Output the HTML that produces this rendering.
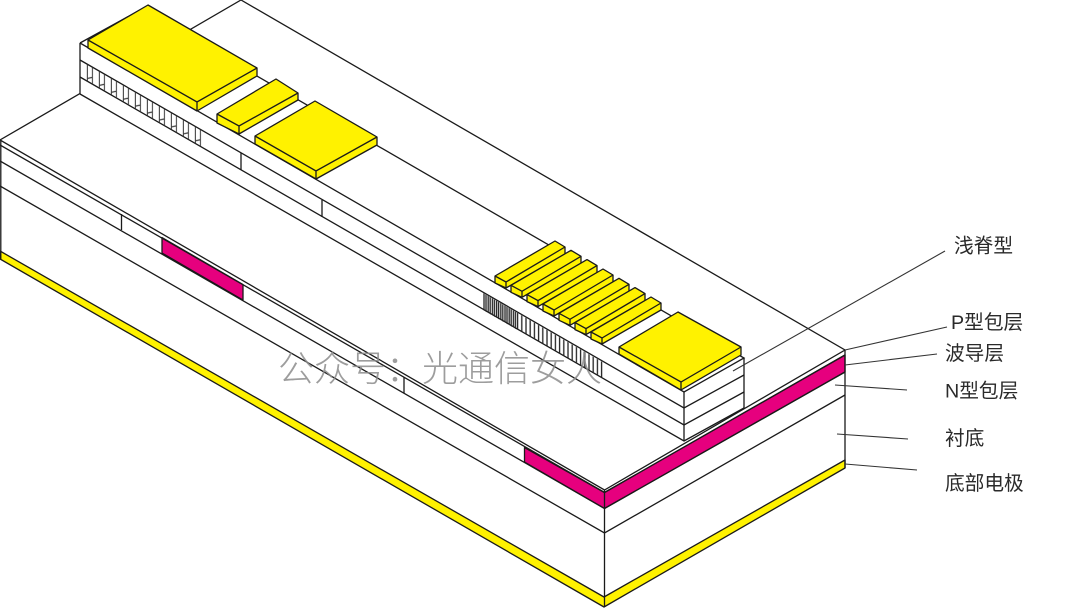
<!DOCTYPE html>
<html lang="zh">
<head>
<meta charset="utf-8">
<title>浅脊型</title>
<style>
html,body{margin:0;padding:0;background:#fff;width:1080px;height:608px;overflow:hidden}
svg{display:block}
.l{fill:none;stroke:#1a1a1a;stroke-width:1.3}
.p{stroke:#1a1a1a;stroke-width:1.3;stroke-linejoin:round}
.y{fill:#fff200}
.d{fill:#e6007e}
.lead{fill:none;stroke:#333;stroke-width:1.1}
text{font-family:"Liberation Sans","Noto Sans CJK SC",sans-serif}
.t{font-size:19.7px;fill:#2a2a2a}
.w{font-size:36px;fill:#8c8c8c;font-weight:300;opacity:.85}
</style>
</head>
<body>
<svg width="1080" height="608" viewBox="0 0 1080 608" xmlns="http://www.w3.org/2000/svg">
<defs>
<pattern id="g1" patternUnits="userSpaceOnUse" x="86.7" y="0" width="12" height="400" patternTransform="skewY(30)">
<path d="M0.7 0V400M5.7 0V400" stroke="#333" stroke-width="1" fill="none"/>
<path d="M0.7 28L5.7 24" stroke="#333" stroke-width="0.9" fill="none"/>
</pattern>
<pattern id="g2" patternUnits="userSpaceOnUse" x="483" y="0" width="4.2" height="800">
<path d="M1 0V800" stroke="#222" stroke-width="1.3" fill="none"/>
</pattern>
<g id="f">
<polygon class="p y" points="495,276 555,241 565,247 565,254 506,288 495,283"/>
<path class="l" d="M495,276L506,282L565,247M506,282V288"/>
</g>
</defs>
<rect width="1080" height="608" fill="#fff"/>

<!-- substrate block -->
<polygon points="0,140 241,0 845,350 845,468 604,607 0,259" fill="#fff"/>
<polygon class="p y" points="0,251 604,597 845,460 845,468 604,607 0,259"/>
<polygon class="p d" points="162,237.5 243,284.5 243,300 162,253"/>
<polygon class="p d" points="524.5,447.5 604.5,492.5 845,355 845,372 604.5,508.5 524.5,462"/>
<path class="l" d="M0,140L604.5,490L845,350L241,0L0,140"/>
<path class="l" d="M0,145L604.5,492.5L845,355"/>
<path class="l" stroke-width="1.4" d="M0,161L604.5,508.5L845,372"/>
<path class="l" d="M0,186L604.5,533L845,395"/>
<path class="l" d="M0.8,140V259M604.5,490V607M845,350V468"/>
<path class="l" d="M121.5,214V230M404,377V393"/>

<!-- ridge -->
<polygon points="80,43 141,9.5 744,358 744,408 684,441 80,94" fill="#fff"/>
<path class="l" d="M80,43L684,392L744,358L257,76M80,43L141,9.5"/>
<path class="l" d="M80,60L684,408L744,375"/>
<path class="l" d="M80,77L684,425L744,392"/>
<path class="l" d="M80,94L684,441L744,408"/>
<path class="l" d="M80,43V94M684,392V441M744,358V408"/>
<path class="l" d="M241,153V170M322,200V217"/>

<!-- gratings -->
<polygon points="84,62.5 202,130.5 202,147 84,79.5" fill="url(#g1)"/>
<polygon points="483,293 604,363 604,379 483,310" fill="url(#g2)"/>
<polygon points="483,293 515,311.5 515,328.5 483,310" fill="url(#g2)" transform="translate(2,1.2)"/>

<!-- pads -->
<polygon class="p y" points="88,40 148,5 257,68 257,76 197,111 88,48"/>
<path class="l" d="M88,40L197,102L257,68M197,102V111"/>
<polygon class="p y" points="217,114 276,79 298,93 298,100 239,134 217,123"/>
<path class="l" d="M217,114L239,126L298,93M239,126V134"/>
<polygon class="p y" points="255,136 315,101 377,137 377,145 316,179 255,144"/>
<path class="l" d="M255,136L316,171L377,137M316,171V179"/>
<use href="#f"/>
<use href="#f" x="16" y="9.3"/>
<use href="#f" x="32" y="18.6"/>
<use href="#f" x="48" y="28"/>
<use href="#f" x="64" y="37.3"/>
<use href="#f" x="80" y="46.6"/>
<use href="#f" x="96" y="56"/>
<polygon class="p y" points="619,347 678,312 741,347 741,355 681,390 619,354"/>
<path class="l" d="M619,347L681,382L741,347M681,382V390"/>

<!-- leader lines -->
<path class="lead" d="M733,371L945,251"/>
<path class="lead" d="M845,350L947,327"/>
<path class="lead" d="M845,365L937,354"/>
<path class="lead" d="M835,385L907,390"/>
<path class="lead" d="M837,434L908,439"/>
<path class="lead" d="M845,464L917,470"/>

<!-- labels -->
<text class="t" x="954" y="252.5">浅脊型</text>
<text class="t" x="951" y="329">P型包层</text>
<text class="t" x="945" y="360">波导层</text>
<text class="t" x="945" y="397.5">N型包层</text>
<text class="t" x="945" y="445">衬底</text>
<text class="t" x="945" y="490">底部电极</text>

<!-- watermark -->
<text class="w" x="278" y="381" textLength="324">公众号：光通信女人</text>
</svg>
</body>
</html>
